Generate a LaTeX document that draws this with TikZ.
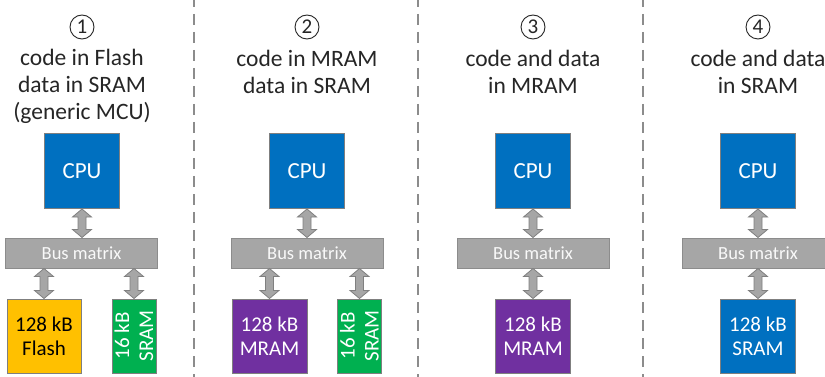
\documentclass[tikz,border=0pt]{standalone}
\usepackage{fontspec}
\setmainfont{Carlito}
\usetikzlibrary{calc}
\definecolor{cpublue}{HTML}{0070C0}
\definecolor{flashyellow}{HTML}{FFC000}
\definecolor{sramgreen}{HTML}{00B050}
\definecolor{mrampurple}{HTML}{7030A0}
\definecolor{busgray}{HTML}{A6A6A6}
\definecolor{busborder}{HTML}{8C8C8C}
\definecolor{boxborder}{HTML}{7F7F7F}
\definecolor{arrowgray}{HTML}{A6A6A6}
\definecolor{arrowborder}{HTML}{808080}
\definecolor{dashgray}{HTML}{8C8C8C}
\definecolor{titletext}{HTML}{262626}
\newcommand\busarrow[2]{%
  \path let \p1=(#1), \p2=(#2) in
    [fill=arrowgray, draw=arrowborder, line width=0.8pt, line join=miter]
    (\x1,\y1) -- ({\x1+9.5pt},{\y1-8pt}) -- ({\x1+4pt},{\y1-8pt}) -- ({\x1+4pt},{\y2+8pt})
    -- ({\x1+9.5pt},{\y2+8pt}) -- (\x1,\y2) -- ({\x1-9.5pt},{\y2+8pt}) -- ({\x1-4pt},{\y2+8pt})
    -- ({\x1-4pt},{\y1-8pt}) -- ({\x1-9.5pt},{\y1-8pt}) -- cycle;}
\tikzset{
  blk/.style={draw=boxborder, line width=1pt, minimum width=75pt, minimum height=75pt,
    inner sep=0pt, text=white, align=center, font=\fontsize{21}{24}\selectfont},
  cpubox/.style={blk, fill=cpublue, font=\fontsize{23}{26}\selectfont},
  flashbox/.style={blk, fill=flashyellow, text=black, minimum width=74pt, minimum height=74pt},
  mrambox/.style={blk, fill=mrampurple, minimum height=74pt},
  srambox/.style={blk, fill=cpublue, minimum height=74pt},
  smallsram/.style={blk, fill=sramgreen, minimum width=44pt, minimum height=74pt},
  busbox/.style={draw=busborder, fill=busgray, line width=1pt, minimum width=152pt,
    minimum height=30pt, inner sep=0pt, text=white!95!gray, font=\fontsize{18.5}{20}\selectfont},
  titlebox/.style={align=center, text=titletext, inner sep=0pt, font=\fontsize{23.5}{27}\selectfont},
  numlabel/.style={circle, draw=titletext, line width=0.9pt, minimum size=24pt, inner sep=0pt,
    text=titletext, font=\fontsize{21}{21}\selectfont},
  divider/.style={draw=dashgray, line width=2pt, dash pattern=on 11pt off 7pt, dash phase=4pt}
}
\begin{document}
\begin{tikzpicture}[x=1pt,y=-1pt]
\useasboundingbox (0,0) rectangle (825,377);
\clip (0,0) rectangle (825,377);
\fill[white] (0,0) rectangle (825,377);

% dividers
\coordinate (d1t) at (194,0); \coordinate (d1b) at (194,377);
\coordinate (d2t) at (418,0); \coordinate (d2b) at (418,377);
\coordinate (d3t) at (643,0); \coordinate (d3b) at (643,377);
\draw[divider] (d1t) -- (d1b);
\draw[divider] (d2t) -- (d2b);
\draw[divider] (d3t) -- (d3b);

% panel 1
\node[numlabel] (n1) at (82,27) {1};
\node[titlebox] (t1) at (82,86) {code in Flash\\data in SRAM\\(generic MCU)};
\node[cpubox] (cpu1) at (82,171) {CPU};
\node[busbox] (bus1) at (81.5,253) {Bus matrix};
\node[flashbox] (mem1) at (44,336) {128 kB\\Flash};
\node[smallsram] (sram1) at (134,336) {};
\node[rotate=90, align=center, text=white, inner sep=0pt, font=\fontsize{21}{24}\selectfont] (sram1t) at (sram1.center) {16 kB\\SRAM};
\busarrow{cpu1.south}{bus1.north -| cpu1.south}
\busarrow{bus1.south -| mem1.north}{mem1.north}
\busarrow{bus1.south -| sram1.north}{sram1.north}

% panel 2
\node[numlabel] (n2) at (307,27) {2};
\node[titlebox] (t2) at (307,72) {code in MRAM\\data in SRAM};
\node[cpubox] (cpu2) at (307,171) {CPU};
\node[busbox] (bus2) at (307,253) {Bus matrix};
\node[mrambox] (mem2) at (269.5,336) {128 kB\\MRAM};
\node[smallsram] (sram2) at (359.5,336) {};
\node[rotate=90, align=center, text=white, inner sep=0pt, font=\fontsize{21}{24}\selectfont] (sram2t) at (sram2.center) {16 kB\\SRAM};
\busarrow{cpu2.south}{bus2.north -| cpu2.south}
\busarrow{bus2.south -| mem2.north}{mem2.north}
\busarrow{bus2.south -| sram2.north}{sram2.north}

% panel 3
\node[numlabel] (n3) at (533,27) {3};
\node[titlebox] (t3) at (533,72) {code and data\\in MRAM};
\node[cpubox] (cpu3) at (533,171) {CPU};
\node[busbox] (bus3) at (533,253) {Bus matrix};
\node[mrambox] (mem3) at (533,336) {128 kB\\MRAM};
\busarrow{cpu3.south}{bus3.north -| cpu3.south}
\busarrow{bus3.south -| mem3.north}{mem3.north}

% panel 4
\node[numlabel] (n4) at (758,27) {4};
\node[titlebox] (t4) at (758,72) {code and data\\in SRAM};
\node[cpubox] (cpu4) at (758,171) {CPU};
\node[busbox] (bus4) at (758,253) {Bus matrix};
\node[srambox] (mem4) at (758,336) {128 kB\\SRAM};
\busarrow{cpu4.south}{bus4.north -| cpu4.south}
\busarrow{bus4.south -| mem4.north}{mem4.north}
\end{tikzpicture}
\end{document}
